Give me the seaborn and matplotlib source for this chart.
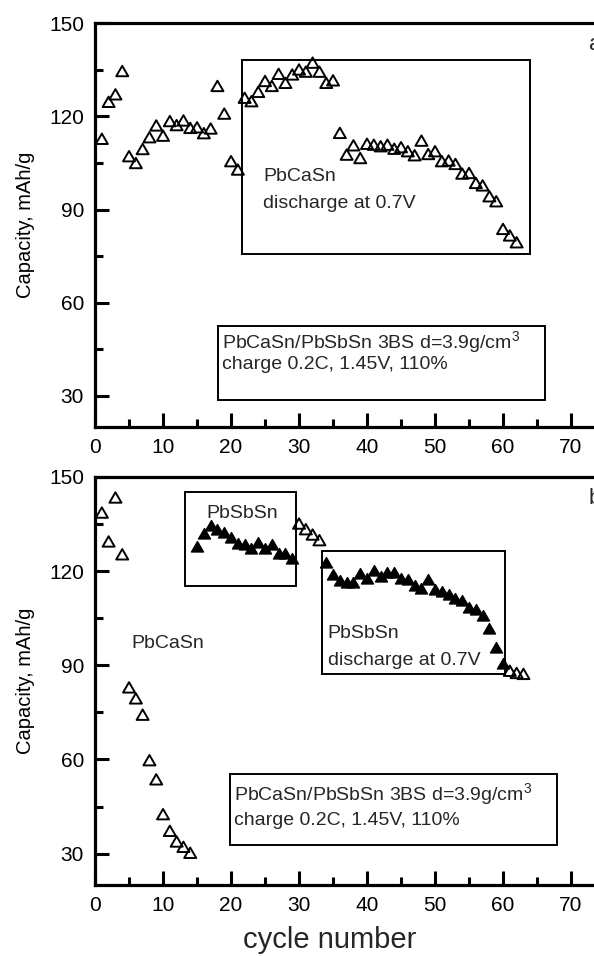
import numpy as np
import pandas as pd
import matplotlib
matplotlib.use("Agg")
import matplotlib.pyplot as plt
from matplotlib.patches import Rectangle
from matplotlib.path import Path
from matplotlib.ticker import MultipleLocator
import seaborn as sns

# ---------------- data ----------------
top_cycles = list(range(1, 63))
top_capacity = [112.2, 124.1, 126.5, 134.0, 106.6, 104.4, 108.9, 112.7, 116.5, 113.2,
                117.9, 116.6, 118.1, 115.7, 115.9, 114.0, 115.5, 129.2, 120.3, 105.0,
                102.3, 125.4, 124.3, 127.3, 130.8, 129.2, 133.1, 130.2, 132.9, 134.5,
                133.8, 136.7, 133.8, 130.2, 131.0, 114.1, 107.1, 110.1, 106.0, 110.6,
                110.3, 109.8, 110.3, 109.0, 109.5, 108.2, 106.9, 111.6, 107.3, 108.2,
                105.0, 105.2, 104.1, 101.0, 101.2, 98.0, 97.2, 93.7, 92.1, 83.2,
                81.1, 78.9]

bot_open_cycles = [1, 2, 3, 4, 5, 6, 7, 8, 9, 10, 11, 12, 13, 14,
                   30, 31, 32, 33, 61, 62, 63]
bot_open_capacity = [138.1, 128.9, 142.9, 124.8, 82.4, 78.9, 73.7, 59.2, 53.1, 42.0,
                     36.7, 33.3, 31.6, 29.7,
                     134.6, 132.8, 131.1, 129.3,
                     87.7, 87.0, 86.7]

bot_fill_cycles = list(range(15, 30)) + list(range(34, 61))
bot_fill_capacity = [127.5, 131.4, 134.1, 132.7, 131.7, 130.1, 128.4, 127.9, 126.6, 128.5,
                     126.8, 127.9, 125.2, 125.0, 123.6,
                     122.4, 118.6, 116.5, 116.0, 116.0, 118.9, 117.2, 119.7, 117.9, 119.2,
                     119.2, 117.2, 116.8, 114.9, 114.1, 116.8, 113.6, 113.0, 112.2, 110.9,
                     110.1, 108.0, 107.4, 105.3, 101.1, 95.2, 90.2]

x_ticks = [0, 10, 20, 30, 40, 50, 60, 70]
y_ticks = [30, 60, 90, 120, 150]

box_text_1 = "PbCaSn/PbSbSn 3BS d=3.9g/cm$^{3}$"
box_text_2 = "charge 0.2C, 1.45V, 110%"

# ---------------- style ----------------
sns.set_theme(style="white")
plt.rcParams["font.family"] = ["Liberation Sans", "DejaVu Sans"]
plt.rcParams["mathtext.fontset"] = "custom"
plt.rcParams["mathtext.rm"] = "Liberation Sans"
plt.rcParams["mathtext.it"] = "Liberation Sans"

tri = Path([(-1.0, -0.577), (1.0, -0.577), (0.0, 1.155), (-1.0, -0.577)],
           [Path.MOVETO, Path.LINETO, Path.LINETO, Path.CLOSEPOLY])
MS = 100  # marker area

fig = plt.figure(figsize=(5.94, 9.56), dpi=100)
ax1 = fig.add_axes([0.16, 0.5533, 0.9158, 0.4226])
ax2 = fig.add_axes([0.16, 0.0743, 0.9158, 0.4268])

df_top = pd.DataFrame({"cycle": top_cycles, "cap": top_capacity})
df_open = pd.DataFrame({"cycle": bot_open_cycles, "cap": bot_open_capacity})
df_fill = pd.DataFrame({"cycle": bot_fill_cycles, "cap": bot_fill_capacity})

sns.scatterplot(data=df_top, x="cycle", y="cap", ax=ax1, marker=tri, s=MS,
                facecolors="none", edgecolor="black", linewidth=1.4, zorder=3)
sns.scatterplot(data=df_open, x="cycle", y="cap", ax=ax2, marker=tri, s=MS,
                facecolors="none", edgecolor="black", linewidth=1.4, zorder=3)
sns.scatterplot(data=df_fill, x="cycle", y="cap", ax=ax2, marker=tri, s=MS,
                color="black", edgecolor="black", linewidth=1.0, zorder=3)

for ax in (ax1, ax2):
    ax.set_xlim(0, 80)
    ax.set_ylim(20, 150)
    ax.set_xticks(x_ticks)
    ax.set_yticks(y_ticks)
    ax.xaxis.set_minor_locator(MultipleLocator(5))
    ax.yaxis.set_minor_locator(MultipleLocator(15))
    ax.tick_params(axis="both", which="major", direction="in", length=10, width=2.2,
                   labelsize=15, color="black", labelcolor="black", pad=8,
                   bottom=True, left=True, top=False, right=False)
    ax.tick_params(axis="both", which="minor", direction="in", length=5.5, width=2.2,
                   color="black", bottom=True, left=True, top=False, right=False)
    for sp in ax.spines.values():
        sp.set_linewidth(2.3)
        sp.set_color("black")
    ax.set_xlabel("")
    ax.set_ylabel("Capacity, mAh/g", fontsize=14.5, labelpad=10, color="black")
    ax.grid(False)

# ---- top panel annotations ----
ax1.add_patch(Rectangle((21.6, 75.7), 63.9 - 21.6, 138.2 - 75.7, fill=False,
                        edgecolor="black", linewidth=1.4, zorder=2))
ax1.text(24.7, 100.5, "PbCaSn", fontsize=14, va="center", ha="left")
ax1.text(24.7, 92.0, "discharge at 0.7V", fontsize=14, va="center", ha="left")
ax1.add_patch(Rectangle((18.1, 28.7), 66.2 - 18.1, 52.5 - 28.7, fill=False,
                        edgecolor="black", linewidth=1.4, zorder=2))
ax1.text(18.7, 47.5, box_text_1, fontsize=14, va="center", ha="left")
ax1.text(18.7, 40.0, box_text_2, fontsize=14, va="center", ha="left")
ax1.text(72.6, 143, "a", fontsize=16, va="center", ha="left")

# ---- bottom panel annotations ----
ax2.add_patch(Rectangle((13.2, 115.2), 29.6 - 13.2, 145.2 - 115.2, fill=False,
                        edgecolor="black", linewidth=1.4, zorder=2))
ax2.text(21.7, 138.3, "PbSbSn", fontsize=14, va="center", ha="center")
ax2.add_patch(Rectangle((33.4, 87.2), 60.25 - 33.4, 126.4 - 87.2, fill=False,
                        edgecolor="black", linewidth=1.4, zorder=2))
ax2.text(34.2, 100.0, "PbSbSn", fontsize=14, va="center", ha="left")
ax2.text(34.2, 91.5, "discharge at 0.7V", fontsize=14, va="center", ha="left")
ax2.text(5.4, 97.0, "PbCaSn", fontsize=14, va="center", ha="left")
ax2.add_patch(Rectangle((19.9, 32.7), 68.0 - 19.9, 55.5 - 32.7, fill=False,
                        edgecolor="black", linewidth=1.4, zorder=2))
ax2.text(20.5, 48.9, box_text_1, fontsize=14, va="center", ha="left")
ax2.text(20.5, 40.4, box_text_2, fontsize=14, va="center", ha="left")
ax2.text(72.6, 143, "b", fontsize=16, va="center", ha="left")

fig.text(330 / 594, 1 - 940 / 956, "cycle number", fontsize=21, ha="center", va="center")

fig.savefig("out.png", dpi=100, facecolor="white")
